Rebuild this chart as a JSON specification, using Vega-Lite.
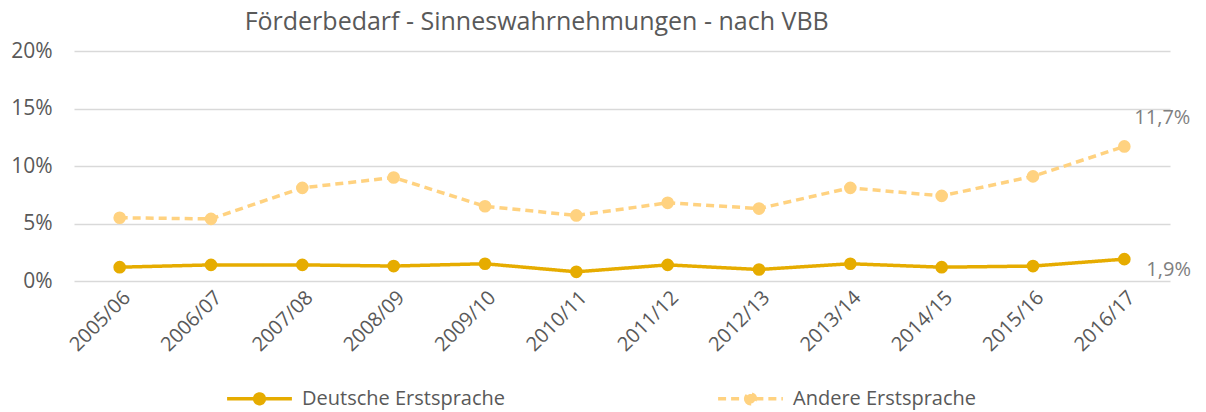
{
  "$schema": "https://vega.github.io/schema/vega-lite/v6.json",
  "width": 1096,
  "height": 230,
  "autosize": "none",
  "padding": {"left": 74, "top": 51, "right": 36, "bottom": 131},
  "background": "white",
  "title": {"text": "Förderbedarf - Sinneswahrnehmungen - nach VBB", "anchor": "start", "dx": 234, "fontSize": 25, "fontWeight": "normal", "color": "#595959", "font": "Open Sans", "offset": 5},
  "config": {
    "locale": {"number": {"decimal": ",", "thousands": ".", "grouping": [3], "currency": ["", " €"]}},
    "view": {"stroke": null},
    "font": "Open Sans"
  },
  "data": {"values": [
    {"year": "2005/06", "series": "Deutsche Erstsprache", "value": 0.012},
    {"year": "2006/07", "series": "Deutsche Erstsprache", "value": 0.014},
    {"year": "2007/08", "series": "Deutsche Erstsprache", "value": 0.014},
    {"year": "2008/09", "series": "Deutsche Erstsprache", "value": 0.013},
    {"year": "2009/10", "series": "Deutsche Erstsprache", "value": 0.015},
    {"year": "2010/11", "series": "Deutsche Erstsprache", "value": 0.008},
    {"year": "2011/12", "series": "Deutsche Erstsprache", "value": 0.014},
    {"year": "2012/13", "series": "Deutsche Erstsprache", "value": 0.010},
    {"year": "2013/14", "series": "Deutsche Erstsprache", "value": 0.015},
    {"year": "2014/15", "series": "Deutsche Erstsprache", "value": 0.012},
    {"year": "2015/16", "series": "Deutsche Erstsprache", "value": 0.013},
    {"year": "2016/17", "series": "Deutsche Erstsprache", "value": 0.019},
    {"year": "2005/06", "series": "Andere Erstsprache", "value": 0.055},
    {"year": "2006/07", "series": "Andere Erstsprache", "value": 0.054},
    {"year": "2007/08", "series": "Andere Erstsprache", "value": 0.081},
    {"year": "2008/09", "series": "Andere Erstsprache", "value": 0.090},
    {"year": "2009/10", "series": "Andere Erstsprache", "value": 0.065},
    {"year": "2010/11", "series": "Andere Erstsprache", "value": 0.057},
    {"year": "2011/12", "series": "Andere Erstsprache", "value": 0.068},
    {"year": "2012/13", "series": "Andere Erstsprache", "value": 0.063},
    {"year": "2013/14", "series": "Andere Erstsprache", "value": 0.081},
    {"year": "2014/15", "series": "Andere Erstsprache", "value": 0.074},
    {"year": "2015/16", "series": "Andere Erstsprache", "value": 0.091},
    {"year": "2016/17", "series": "Andere Erstsprache", "value": 0.117}
  ]},
  "encoding": {
    "x": {"field": "year", "type": "ordinal", "sort": null, "title": null,
      "axis": {"labelAngle": -45, "labelFontSize": 20, "labelColor": "#595959", "domain": false, "ticks": false, "labelPadding": 6, "grid": false}},
    "y": {"field": "value", "type": "quantitative", "scale": {"domain": [0, 0.2]}, "title": null,
      "axis": {"format": ".0%", "values": [0, 0.05, 0.1, 0.15, 0.2], "labelFontSize": 21, "labelColor": "#595959", "domain": false, "ticks": false, "labelPadding": 22, "gridColor": "#D9D9D9", "gridWidth": 1.5}}
  },
  "layer": [
    {
      "mark": {"type": "line", "strokeWidth": 3.5},
      "encoding": {
        "color": {"field": "series", "type": "nominal", "sort": null,
          "scale": {"domain": ["Deutsche Erstsprache", "Andere Erstsprache"], "range": ["#E6AC00", "#FFD280"]},
          "legend": {"title": null, "orient": "none", "legendX": 151, "legendY": 313, "direction": "horizontal", "columnPadding": 205, "labelFontSize": 20, "labelLimit": 400, "labelColor": "#595959", "symbolType": "M -1 0 L -0.15 0 M 0.15 0 L 1 0 M -0.15 0 A 0.15 0.15 0 1 0 0.15 0 A 0.15 0.15 0 1 0 -0.15 0", "symbolSize": 4200, "symbolStrokeWidth": 3.5, "labelOffset": 8}},
        "strokeDash": {"field": "series", "type": "nominal", "sort": null,
          "scale": {"domain": ["Deutsche Erstsprache", "Andere Erstsprache"], "range": [[1, 0], [8, 5]]},
          "legend": null}
      }
    },
    {
      "mark": {"type": "point", "filled": true, "size": 160, "opacity": 1},
      "encoding": {
        "color": {"field": "series", "type": "nominal", "sort": null}
      }
    },
    {
      "transform": [{"filter": "datum.year === '2016/17' && datum.series === 'Andere Erstsprache'"}],
      "mark": {"type": "text", "align": "left", "dx": 10, "dy": -28, "fontSize": 20, "color": "#7F7F7F"},
      "encoding": {"text": {"field": "value", "type": "quantitative", "format": ".1%"}}
    },
    {
      "transform": [{"filter": "datum.year === '2016/17' && datum.series === 'Deutsche Erstsprache'"}],
      "mark": {"type": "text", "align": "left", "dx": 22, "dy": 11, "fontSize": 20, "color": "#7F7F7F"},
      "encoding": {"text": {"field": "value", "type": "quantitative", "format": ".1%"}}
    }
  ]
}
